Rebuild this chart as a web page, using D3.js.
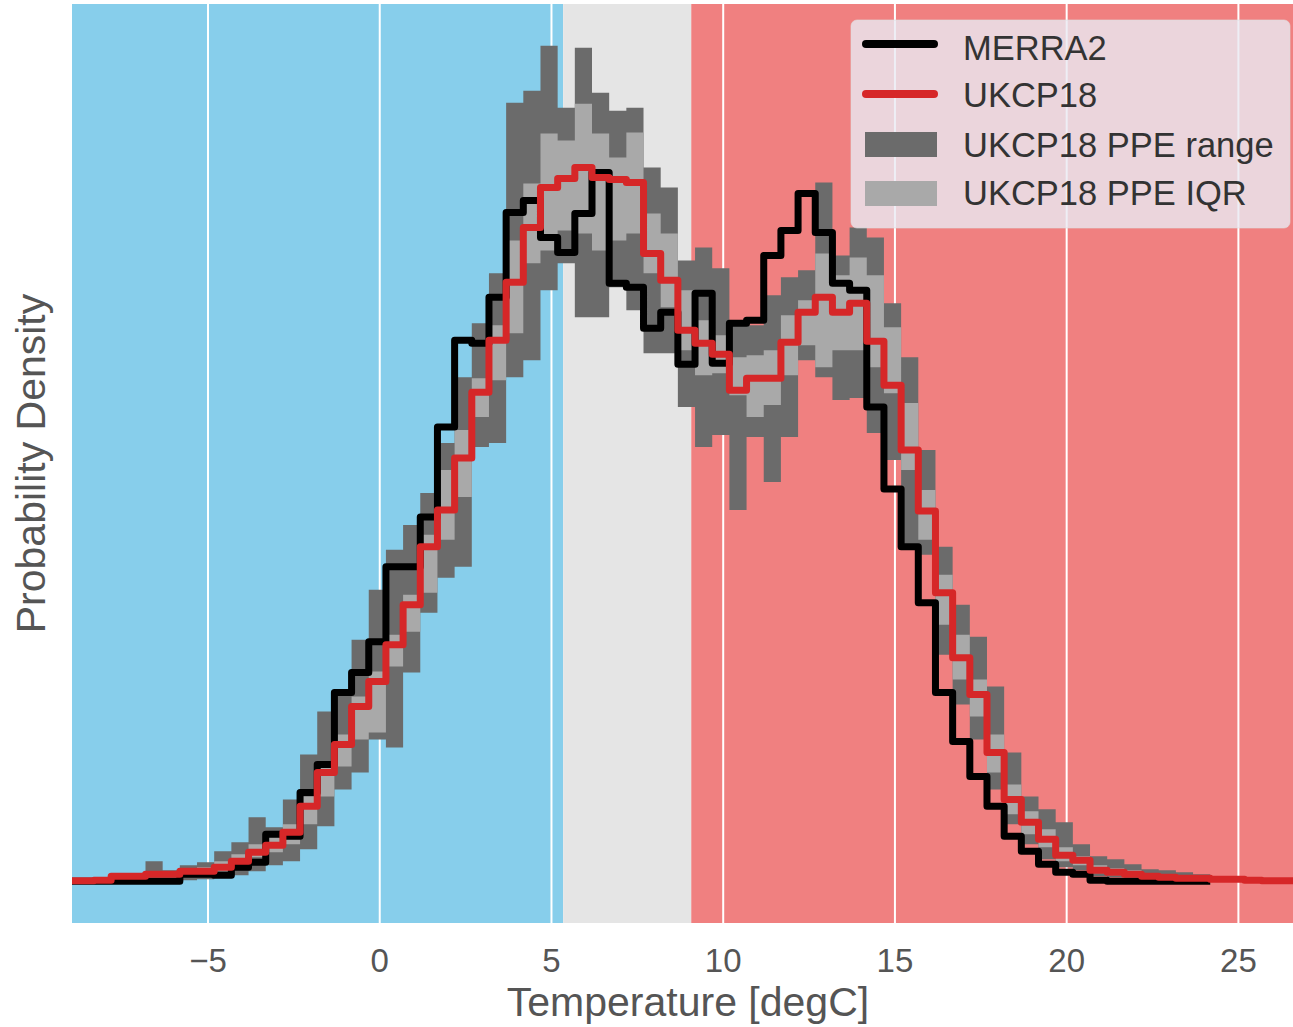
<!DOCTYPE html>
<html>
<meta charset="utf-8">
<style>
    body { margin: 0; background: #fff; }
    text { font-family: "Liberation Sans", Arial, sans-serif; }
    .tick-label { font-size: 33px; fill: #555; }
    .axis-label { font-size: 41px; fill: #555; }
    .legend-text { font-size: 34.5px; fill: #333; }
    .grid { stroke: #fff; stroke-width: 2px; }
    .range { fill: #6b6b6b; }
    .iqr { fill: #a9a9a9; }
    .merra { fill: none; stroke: #000; stroke-width: 7px; stroke-linejoin: round; }
    .ukcp { fill: none; stroke: #d62728; stroke-width: 7px; stroke-linejoin: round; }
</style>
<body>
<script src="https://cdn.jsdelivr.net/npm/d3@7"></script>
<script>

    // histogram bins: left edge of first bin and width, degC
    var binStart = -9.32,
        binWidth = 0.5;

    // probability density per bin
    var ukcp18 = [
        0.00005, 0.00005, 0.0001, 0.0005, 0.0005, 0.0007, 0.0007, 0.0010, 0.0010, 0.0014,
        0.0020, 0.0029, 0.0036, 0.0049, 0.0075, 0.0109, 0.0137, 0.0175, 0.0200, 0.0237,
        0.0277, 0.0335, 0.0372, 0.0424, 0.0490, 0.0542, 0.0600, 0.0655, 0.0695, 0.0704,
        0.0715, 0.0705, 0.0703, 0.0700, 0.0629, 0.0602, 0.0552, 0.0539, 0.0528, 0.0492,
        0.0504, 0.0504, 0.0540, 0.0570, 0.0585, 0.0570, 0.0579, 0.0541, 0.0497, 0.0432,
        0.0371, 0.0289, 0.0224, 0.0187, 0.0129, 0.0082, 0.0059, 0.0042, 0.0026, 0.0021,
        0.0011, 0.0009, 0.0007, 0.0005, 0.0004, 0.0003, 0.0003, 0.0002, 0.0002, 0.0001,
        0.00005, 0.00005
    ];

    var merra2 = [
        0, 0, 0, 0, 0, 0, 0, 0.0007, 0.0007, 0.0006,
        0.0014, 0.0019, 0.0047, 0.0045, 0.0089, 0.0117, 0.0189, 0.0209, 0.0240, 0.0315,
        0.0315, 0.0365, 0.0455, 0.0542, 0.0539, 0.0585, 0.0670, 0.0682, 0.0645, 0.0630,
        0.0669, 0.0710, 0.0599, 0.0595, 0.0554, 0.0570, 0.0518, 0.0589, 0.0519, 0.0559,
        0.0562, 0.0627, 0.0652, 0.0689, 0.0650, 0.0599, 0.0592, 0.0475, 0.0393, 0.0335,
        0.0279, 0.0189, 0.0140, 0.0105, 0.0075, 0.0045, 0.0030, 0.0017, 0.0009, 0.0007,
        0.0001, 0, 0, 0, 0, 0, 0
    ];

    var ppeMax = [
        0.0002, 0.0003, 0.0004, 0.0007, 0.0008, 0.0020, 0.0011, 0.0016, 0.0019, 0.0030,
        0.0039, 0.0064, 0.0054, 0.0082, 0.0127, 0.0170, 0.0192, 0.0242, 0.0292, 0.0332,
        0.0357, 0.0389, 0.0439, 0.0505, 0.0559, 0.0609, 0.0780, 0.0792, 0.0837, 0.0775,
        0.0835, 0.0790, 0.0772, 0.0775, 0.0715, 0.0695, 0.0622, 0.0635, 0.0614, 0.0557,
        0.0557, 0.0587, 0.0605, 0.0612, 0.0700, 0.0627, 0.0655, 0.0645, 0.0579, 0.0525,
        0.0432, 0.0335, 0.0277, 0.0245, 0.0195, 0.0129, 0.0085, 0.0072, 0.0059, 0.0037,
        0.0025, 0.0022, 0.0017, 0.0012, 0.0011, 0.0009, 0.0007, 0.0005, 0.0004, 0.0003,
        0.0002, 0.0002
    ];

    var ppeQ75 = [
        0.0001, 0.0002, 0.0002, 0.0006, 0.0006, 0.0009, 0.0009, 0.0013, 0.0014, 0.0020,
        0.0027, 0.0037, 0.0044, 0.0057, 0.0085, 0.0119, 0.0147, 0.0185, 0.0210, 0.0247,
        0.0287, 0.0347, 0.0412, 0.0452, 0.0504, 0.0557, 0.0642, 0.0699, 0.0749, 0.0742,
        0.0779, 0.0749, 0.0725, 0.0750, 0.0669, 0.0649, 0.0592, 0.0562, 0.0547, 0.0525,
        0.0527, 0.0532, 0.0567, 0.0582, 0.0629, 0.0607, 0.0625, 0.0607, 0.0555, 0.0479,
        0.0392, 0.0307, 0.0247, 0.0202, 0.0147, 0.0097, 0.0070, 0.0052, 0.0034, 0.0025,
        0.0016, 0.0013, 0.0011, 0.0008, 0.0007, 0.0006, 0.0005, 0.0004, 0.0003, 0.0002,
        0.0001, 0.0001
    ];

    var ppeQ25 = [
        0, 0, 0, 0.0003, 0.0002, 0.0004, 0.0004, 0.0006, 0.0006, 0.0010,
        0.0016, 0.0024, 0.0029, 0.0037, 0.0057, 0.0085, 0.0115, 0.0142, 0.0149, 0.0215,
        0.0250, 0.0289, 0.0342, 0.0385, 0.0465, 0.0502, 0.0549, 0.0619, 0.0632, 0.0652,
        0.0649, 0.0632, 0.0642, 0.0649, 0.0609, 0.0575, 0.0532, 0.0507, 0.0509, 0.0487,
        0.0465, 0.0477, 0.0507, 0.0537, 0.0515, 0.0532, 0.0532, 0.0515, 0.0489, 0.0412,
        0.0342, 0.0257, 0.0202, 0.0165, 0.0109, 0.0067, 0.0047, 0.0034, 0.0020, 0.0016,
        0.0008, 0.0006, 0.0005, 0.0004, 0.0003, 0.0002, 0.0002, 0.0001, 0.0001, 0,
        0, 0
    ];

    var ppeMin = [
        0, 0, 0, 0, 0, 0, 0, 0.0001, 0.0002, 0.0004,
        0.0006, 0.0010, 0.0016, 0.0020, 0.0032, 0.0055, 0.0092, 0.0109, 0.0142, 0.0134,
        0.0209, 0.0269, 0.0304, 0.0315, 0.0435, 0.0439, 0.0505, 0.0522, 0.0592, 0.0619,
        0.0565, 0.0565, 0.0595, 0.0572, 0.0529, 0.0529, 0.0475, 0.0435, 0.0447, 0.0372,
        0.0445, 0.0400, 0.0445, 0.0522, 0.0505, 0.0482, 0.0484, 0.0449, 0.0422, 0.0332,
        0.0327, 0.0227, 0.0177, 0.0142, 0.0092, 0.0057, 0.0037, 0.0022, 0.0014, 0.0011,
        0.0005, 0.0004, 0.0003, 0.0002, 0.0002, 0.0001, 0.0001, 0, 0, 0,
        0, 0
    ];

    // temperature zones behind the plot
    var zoneBreaks = [5.34, 9.07];
    var zoneColors = ["#87ceeb", "#e5e5e5", "#f08080"];

    var xLimits = [-8.96, 26.91];
    var xTicks = [-5, 0, 5, 10, 15, 20, 25];

    var legendNames = ["MERRA2", "UKCP18", "UKCP18 PPE range", "UKCP18 PPE IQR"];

    var width = 1293,
        height = 1027;
    var plot = { left: 72, right: 1304, top: 4, bottom: 923 };

    var x = d3.scaleLinear().domain(xLimits).range([plot.left, plot.right]);
    var yTop = d3.max(ppeMax);
    var y = d3.scaleLinear()
        .domain([-0.05 * yTop, 1.05 * yTop])
        .range([plot.bottom, plot.top]);

    function edge(i) { return binStart + i * binWidth; }

    // step points: one per bin left edge, plus the closing right edge
    function stepLine(values) {
        var pts = values.map(function (v, i) { return [edge(i), v]; });
        pts.push([edge(values.length), values[values.length - 1]]);
        return pts;
    }

    function stepBand(lo, hi) {
        var pts = lo.map(function (v, i) { return { t: edge(i), lo: v, hi: hi[i] }; });
        pts.push({ t: edge(lo.length), lo: lo[lo.length - 1], hi: hi[hi.length - 1] });
        return pts;
    }

    var svg = d3.select("body").append("svg")
        .attr("width", width)
        .attr("height", height);

    svg.append("clipPath").attr("id", "plot-clip")
        .append("rect")
        .attr("x", plot.left).attr("y", plot.top)
        .attr("width", plot.right - plot.left)
        .attr("height", plot.bottom - plot.top);

    var g = svg.append("g").attr("clip-path", "url(#plot-clip)");

    // zones
    var zoneEdges = [xLimits[0]].concat(zoneBreaks, [xLimits[1]]);
    g.selectAll(".zone")
        .data(zoneColors)
        .enter().append("rect")
        .attr("class", "zone")
        .attr("x", function (d, i) { return x(zoneEdges[i]); })
        .attr("width", function (d, i) { return x(zoneEdges[i + 1]) - x(zoneEdges[i]); })
        .attr("y", plot.top)
        .attr("height", plot.bottom - plot.top)
        .attr("fill", function (d) { return d; });

    // vertical grid
    g.selectAll(".grid")
        .data(xTicks)
        .enter().append("line")
        .attr("class", "grid")
        .attr("x1", function (d) { return x(d); })
        .attr("x2", function (d) { return x(d); })
        .attr("y1", plot.top)
        .attr("y2", plot.bottom);

    var area = d3.area()
        .curve(d3.curveStepAfter)
        .x(function (d) { return x(d.t); })
        .y0(function (d) { return y(d.lo); })
        .y1(function (d) { return y(d.hi); });

    var line = d3.line()
        .curve(d3.curveStepAfter)
        .x(function (d) { return x(d[0]); })
        .y(function (d) { return y(d[1]); });

    g.append("path")
        .datum(stepBand(ppeMin, ppeMax))
        .attr("class", "range")
        .attr("d", area);

    g.append("path")
        .datum(stepBand(ppeQ25, ppeQ75))
        .attr("class", "iqr")
        .attr("d", area);

    g.append("path")
        .datum(stepLine(merra2))
        .attr("class", "merra")
        .attr("d", line);

    g.append("path")
        .datum(stepLine(ukcp18))
        .attr("class", "ukcp")
        .attr("d", line);

    // x tick labels
    var fmt = d3.format("d");
    svg.selectAll(".tick-label")
        .data(xTicks)
        .enter().append("text")
        .attr("class", "tick-label")
        .attr("x", function (d) { return x(d); })
        .attr("y", 972)
        .attr("text-anchor", "middle")
        .text(function (d) { return fmt(d); });

    svg.append("text")
        .attr("class", "axis-label")
        .attr("x", (plot.left + plot.right) / 2)
        .attr("y", 1016)
        .attr("text-anchor", "middle")
        .text("Temperature [degC]");

    svg.append("text")
        .attr("class", "axis-label")
        .attr("transform", "translate(45," + (plot.top + plot.bottom) / 2 + ") rotate(-90)")
        .attr("text-anchor", "middle")
        .text("Probability Density");

    // legend
    var legend = svg.append("g").attr("transform", "translate(851,20)");
    legend.append("rect")
        .attr("width", 439)
        .attr("height", 208)
        .attr("rx", 6)
        .attr("fill", "#eaeaf2")
        .attr("fill-opacity", 0.8)
        .attr("stroke", "#ddd")
        .attr("stroke-opacity", 0.6);

    var rowY = [24, 74, 125, 174];
    var textY = [40, 87, 137, 185];
    var swatch = ["#000", "#d62728", "#6b6b6b", "#a9a9a9"];

    legend.selectAll(".legend-line")
        .data([0, 1])
        .enter().append("line")
        .attr("x1", 15).attr("x2", 83)
        .attr("y1", function (d) { return rowY[d]; })
        .attr("y2", function (d) { return rowY[d]; })
        .attr("stroke", function (d) { return swatch[d]; })
        .attr("stroke-width", 8)
        .attr("stroke-linecap", "round");

    legend.selectAll(".legend-box")
        .data([2, 3])
        .enter().append("rect")
        .attr("x", 14).attr("width", 72)
        .attr("y", function (d) { return rowY[d] - 13; })
        .attr("height", 25)
        .attr("fill", function (d) { return swatch[d]; });

    legend.selectAll(".legend-text")
        .data(legendNames)
        .enter().append("text")
        .attr("class", "legend-text")
        .attr("x", 112)
        .attr("y", function (d, i) { return textY[i]; })
        .text(function (d) { return d; });

</script>
</body>
</html>
